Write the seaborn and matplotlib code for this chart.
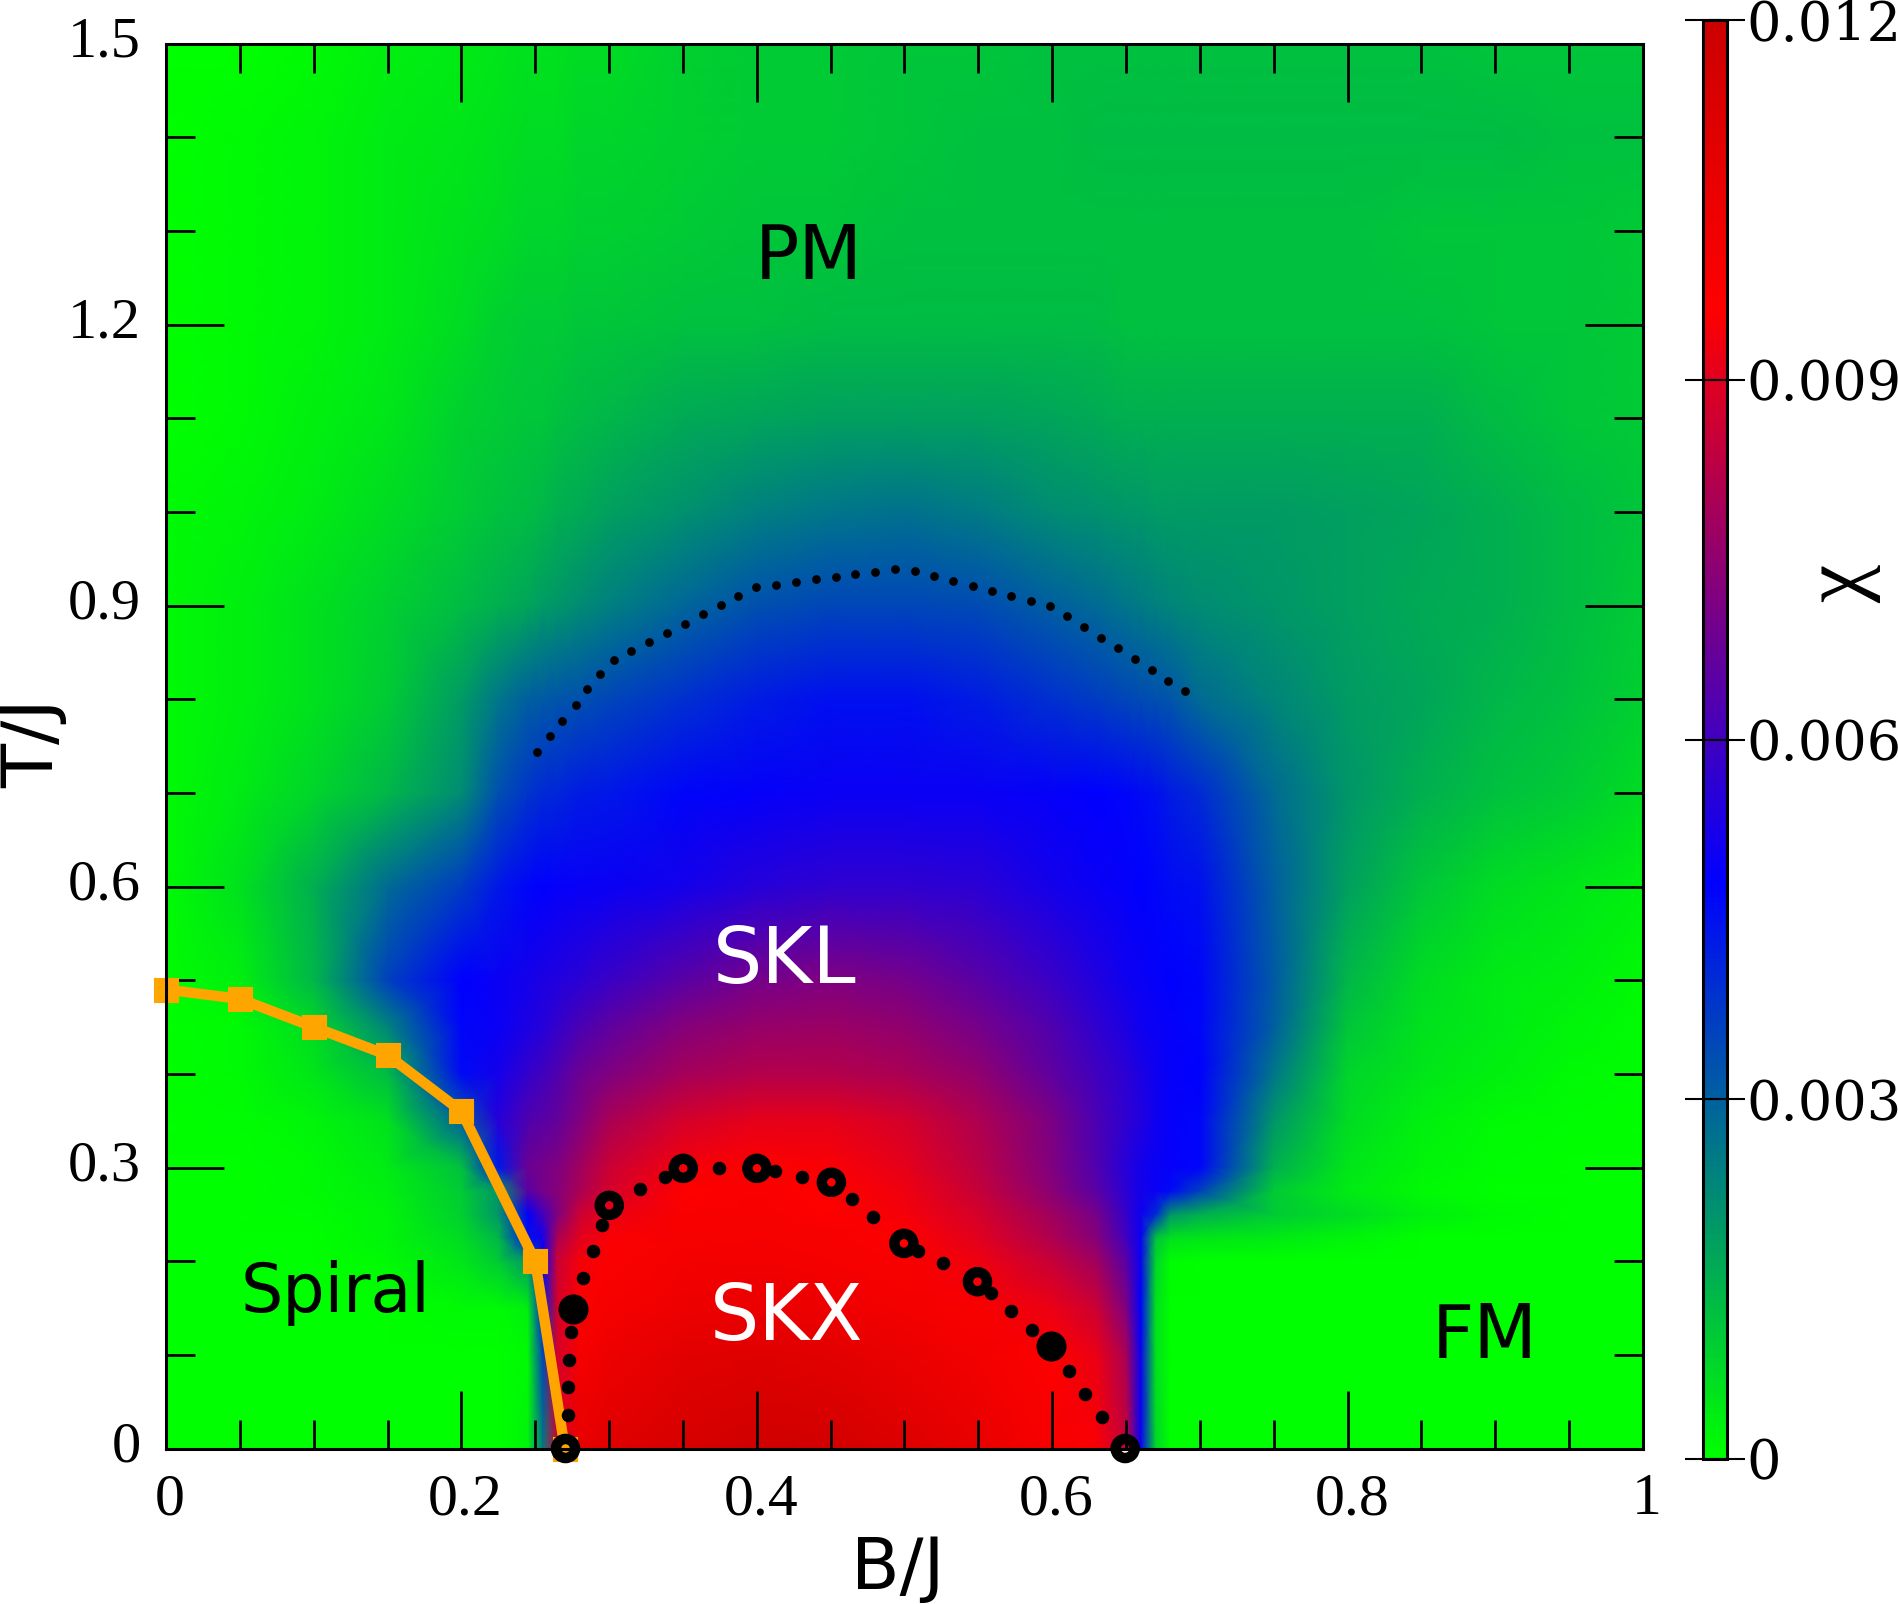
import numpy as np
import pandas as pd
import matplotlib.pyplot as plt
import seaborn as sns
from matplotlib.colors import LinearSegmentedColormap
from matplotlib.ticker import MultipleLocator, FixedLocator
from matplotlib.transforms import ScaledTranslation

# grid of the susceptibility map, chi is in units of 1e-3
b_grid = [0, .05, .1, .15, .2, .225, .245, .255, .265, .28, .3, .35, .4, .45, .5, .55, .6,
          .63, .65, .66, .67, .68, .7, .75, .8, .85, .9, .95, 1]
t_grid = [0, .1, .15, .2, .225, .25, .275, .3, .35, .4, .45, .5, .6, .7, .8, .9, 1.0, 1.1, 1.2, 1.3, 1.4, 1.5]
chi = [
    [0, 0, 0, 0, 0, 0, .2, 2.5, 8.8, 10.6, 11, 11.5, 11.8, 11.7, 11.2, 10.6, 9.9, 9.5, 8.5, 5, .8, 0, 0, 0, 0, 0, 0, 0, 0],
    [0, 0, 0, 0, 0, 0, .1, 3.5, 8.8, 10, 10.4, 10.9, 11.1, 10.9, 10.5, 10.1, 9.6, 9.2, 8, 5, .6, 0, 0, 0, 0, 0, 0, 0, 0],
    [0, 0, 0, 0, .1, .1, .3, 4.2, 8.8, 9.7, 10, 10.4, 10.5, 10.4, 10.1, 9.8, 9.2, 8.6, 7.2, 4.8, .6, 0, 0, 0, 0, 0, 0, 0, 0],
    [0, 0, 0, .1, .5, 1, 2, 5, 8.6, 9.4, 9.7, 10.1, 10.2, 10, 9.8, 9.3, 8.5, 7.8, 6.5, 5, .8, .05, 0, 0, 0, 0, 0, 0, 0],
    [0, 0, 0, .2, .7, 1.4, 4.5, 5.2, 8, 9, 9.5, 9.9, 10, 9.9, 9.6, 9, 8.1, 7.3, 6, 5, 1.2, .6, .5, .4, .2, 0, 0, 0, 0],
    [0, 0, .05, .2, .9, 2, 4.9, 6, 7.2, 8.6, 9.2, 9.8, 9.9, 9.7, 9.4, 8.8, 7.8, 7, 5.8, 5.1, 4, 2, 1.5, 1, .7, .3, .1, 0, 0],
    [0, 0, .1, .3, 1, 2, 6.5, 7, 7.3, 8, 8.8, 9.6, 9.8, 9.6, 9.3, 8.5, 7.4, 6.5, 5.6, 5.2, 5, 4.6, 3.6, 1, .4, .1, 0, 0, 0],
    [0, 0, .1, .4, 1.2, 4.4, 6.8, 7, 7.2, 7.8, 8.6, 9.4, 9.6, 9.5, 9.1, 8.3, 7.2, 6.3, 5.5, 5.2, 5, 4.9, 4.7, 1.5, .5, .2, .05, 0, 0],
    [0, .05, .2, .6, 3, 5.5, 6.3, 6.5, 6.7, 7.2, 8, 8.8, 9.1, 9.1, 8.8, 8.1, 7.1, 6.2, 5.7, 5.4, 5.1, 4.9, 4.7, 2, .7, .3, .1, .05, 0],
    [0, .1, .5, 1.3, 4.6, 5.2, 5.8, 6, 6.3, 6.8, 7.2, 7.9, 8.2, 8.2, 8, 7.5, 6.6, 6, 5.6, 5.3, 5.1, 4.9, 4.8, 2.6, .8, .5, .3, .1, .05],
    [0, .1, .7, 2.3, 4.7, 5, 5.3, 5.5, 5.8, 6.2, 6.6, 7.3, 7.6, 7.7, 7.5, 7, 6.3, 5.7, 5.3, 5.1, 5, 4.9, 4.7, 3, 1.1, .6, .4, .2, .05],
    [.05, .3, 1.4, 3.6, 4.8, 5, 5.2, 5.3, 5.4, 5.6, 5.9, 6.5, 7, 7.2, 7, 6.5, 5.9, 5.4, 5.1, 5, 4.9, 4.8, 4.7, 3.1, 1.4, .7, .4, .3, .1],
    [.1, .6, 1.5, 2.8, 3.7, 4.4, 4.7, 4.8, 4.9, 4.95, 5, 5.2, 5.5, 5.7, 5.7, 5.6, 5.2, 5, 4.9, 4.8, 4.7, 4.6, 4.5, 3, 1.8, 1.1, .7, .5, .3],
    [.1, .4, .8, 1.4, 2.2, 3.3, 3.8, 4, 4.1, 4.3, 4.4, 4.7, 4.9, 5, 5, 5, 4.9, 4.8, 4.7, 4.6, 4.5, 4.3, 4, 2.8, 2, 1.5, 1.2, 1, .7],
    [.1, .3, .6, 1, 1.9, 2.6, 3, 3.1, 3.2, 3.3, 3.5, 3.9, 4.3, 4.5, 4.5, 4.3, 3.9, 3.7, 3.5, 3.4, 3.3, 3.2, 2.8, 2.3, 1.9, 1.7, 1.4, 1.2, .9],
    [.1, .3, .6, .9, 1.3, 1.5, 1.7, 1.9, 2, 2.2, 2.4, 2.9, 3.3, 3.5, 3.5, 3.4, 3, 2.8, 2.6, 2.5, 2.4, 2.3, 2.2, 2, 1.8, 1.6, 1.5, 1.3, 1],
    [.1, .2, .4, .7, 1, 1.2, 1.3, 1.4, 1.5, 1.6, 1.8, 2.1, 2.4, 2.6, 2.7, 2.5, 2.2, 2.1, 2, 2, 1.9, 1.9, 1.9, 1.9, 1.8, 1.7, 1.5, 1.3, 1.1],
    [0, .1, .3, .5, .9, 1, 1.1, 1.1, 1.2, 1.3, 1.4, 1.6, 1.7, 1.8, 1.8, 1.8, 1.7, 1.6, 1.5, 1.5, 1.5, 1.5, 1.5, 1.5, 1.5, 1.5, 1.3, 1.1, 1],
    [0, .1, .2, .4, .7, .9, 1, 1, 1, 1.1, 1.1, 1.2, 1.2, 1.3, 1.3, 1.3, 1.3, 1.3, 1.2, 1.2, 1.2, 1.2, 1.2, 1.2, 1.2, 1.2, 1.1, 1.1, 1],
    [0, .1, .2, .4, .6, .7, .8, .8, .8, .9, .9, 1, 1.1, 1.1, 1.2, 1.2, 1.2, 1.2, 1.2, 1.2, 1.2, 1.2, 1.2, 1.2, 1.2, 1.1, 1.1, 1.1, 1],
    [0, .1, .2, .4, .5, .6, .7, .7, .7, .8, .8, .9, 1, 1, 1.1, 1.2, 1.2, 1.3, 1.3, 1.3, 1.3, 1.3, 1.3, 1.3, 1.3, 1.3, 1.3, 1.2, 1.2],
    [0, 0, .1, .3, .4, .5, .6, .6, .6, .7, .7, .9, 1, 1, 1.1, 1.1, 1.2, 1.2, 1.2, 1.2, 1.2, 1.2, 1.2, 1.2, 1.2, 1.2, 1.1, 1.1, 1.1],
]

# spiral boundary (orange)
spiral_b = [0, .05, .1, .15, .2, .25, .27]
spiral_t = [.49, .48, .45, .42, .36, .2, 0]

# dotted crossover above SKL
cross_b = [.2514, .2603, .2683, .2773, .2853, .2939, .3035, .3150, .3271, .3393, .3517, .3638, .3760,
           .3875, .3996, .4131, .4268, .4402, .4536, .4667, .4801, .4939, .5073, .5201, .5329, .5466,
           .5594, .5722, .5859, .5987, .6102, .6217, .6332, .6447, .6562, .6677, .6786, .6901]
cross_t = [.7433, .7603, .7764, .7934, .8105, .8265, .8415, .8511, .8607, .8703, .8799, .8906, .9002,
           .9098, .9194, .9215, .9248, .9280, .9301, .9333, .9354, .9386, .9365, .9312, .9258, .9205,
           .9151, .9098, .9045, .8991, .8885, .8767, .8650, .8543, .8425, .8308, .8191, .8084]

# SKX dome: small dots, open circles, filled circles
dome_b = [.2719, .2724, .2730, .2744, .2824, .2893, .2955, .3212, .3380, .3745, .4126, .4309, .4645,
          .4788, .5090, .5263, .5583, .5722, .5865, .6116, .6224, .6338]
dome_t = [.0358, .0653, .0941, .1240, .1817, .2105, .2382, .2767, .2895, .2991, .2959, .2895, .2660,
          .2468, .2112, .1977, .1656, .1464, .1262, .0824, .0578, .0333]
open_b = [.2705, .3001, .3502, .4001, .4505, .4996, .5494, .6494]
open_t = [0, .2596, .2991, .2991, .2842, .2190, .1781, 0]
full_b = [.2753, .5993]
full_t = [.1486, .1094]

sns.set_style('ticks')
serif = 'Liberation Serif'
sans = 'DejaVu Sans'

W, H = 1899, 1604
fig = plt.figure(figsize=(W / 100, H / 100), dpi=100)
ax = fig.add_axes([166 / W, 1 - 1448.5 / H, 1477 / W, 1405 / H])
cax = fig.add_axes([1703 / W, 1 - 1459 / H, 24 / W, 1439 / H])

cmap = LinearSegmentedColormap.from_list(
    'chi', [(0, '#00ff00'), (.4, '#0000ff'), (.8, '#ff0000'), (1, '#cc0000')], N=256)
mesh = ax.pcolormesh(b_grid, t_grid, np.array(chi), shading='gouraud', cmap=cmap, vmin=0, vmax=12)

orange = pd.DataFrame({'b': spiral_b, 't': spiral_t})
sns.lineplot(data=orange, x='b', y='t', sort=False, estimator=None, color='orange', lw=7.5, ax=ax,
             marker='s', markersize=10, markerfacecolor='none', markeredgecolor='orange',
             markeredgewidth=8, clip_on=False, zorder=5)

sns.scatterplot(x=cross_b, y=cross_t, color='black', s=40, linewidth=0, ax=ax, zorder=6)
sns.scatterplot(x=dome_b, y=dome_t, color='black', s=95, linewidth=0, ax=ax, zorder=6)
sns.scatterplot(x=open_b, y=open_t, facecolor='none', edgecolor='black', s=190, linewidth=7.5, ax=ax,
                zorder=7, clip_on=False)
sns.scatterplot(x=full_b, y=full_t, color='black', s=470, linewidth=0, ax=ax, zorder=7)

ax.set_xlim(0, 1)
ax.set_ylim(0, 1.5)
ax.set_axisbelow(False)
ax.set_xticks([0, .2, .4, .6, .8, 1])
ax.set_xticklabels(['0', '0.2', '0.4', '0.6', '0.8', '1'], family=serif, fontsize=43, color='black')
ax.set_yticks([0, .3, .6, .9, 1.2, 1.5])
ax.set_yticklabels(['0', '0.3', '0.6', '0.9', '1.2', '1.5'], family=serif, fontsize=42, color='black')
ax.xaxis.set_minor_locator(MultipleLocator(.05))
ax.yaxis.set_minor_locator(MultipleLocator(.1))
ax.tick_params(which='major', direction='in', top=True, right=True, length=42, width=2, pad=18, color='black')
ax.tick_params(which='minor', direction='in', top=True, right=True, length=21, width=2, color='black')
# tick labels sit a little off the ticks in the original
for lab in ax.get_xticklabels():
    lab.set_transform(lab.get_transform() + ScaledTranslation(3 / 72, 0, fig.dpi_scale_trans))
for lab in ax.get_yticklabels():
    lab.set_transform(lab.get_transform() + ScaledTranslation(0, 5 / 72, fig.dpi_scale_trans))
for s in ax.spines.values():
    s.set_linewidth(2.2)
    s.set_color('black')
    s.set_zorder(8)
ax.set_xlabel('')
ax.set_ylabel('')

fig.text(741 * 1.2111 / W, 1 - 1296 * 1.2111 / H, 'B/J', family=sans, fontsize=51, ha='center', va='center', color='black')
fig.text(28 * 1.2111 / W, 1 - 614 * 1.2111 / H, 'T/J', family=sans, fontsize=52, ha='center', va='center',
         rotation=90, color='black')

for label, b, t, size, col in [('PM', .435, 1.27, 53, 'black'), ('SKL', .419, .52, 56, 'white'),
                               ('SKX', .42, .139, 56, 'white'), ('Spiral', .115, .166, 48, 'black'),
                               ('FM', .893, .118, 53, 'black')]:
    ax.text(b, t, label, family=sans, fontsize=size, color=col, ha='center', va='center', zorder=9)

cb = fig.colorbar(mesh, cax=cax)
cb.set_ticks([0, 3, 6, 9, 12])
cb.set_ticklabels(['0', '0.003', '0.006', '0.009', '0.012'], family='DejaVu Serif', fontsize=39, color='black')
cb.outline.set_linewidth(2.2)
cb.outline.set_edgecolor('black')
cax.yaxis.set_minor_locator(FixedLocator([]))
cax.set_axisbelow(False)
cax.tick_params(axis='y', direction='inout', left=True, right=True, length=26, width=1.5, pad=1, color='black')
fig.text(1841 / W, 1 - 584 / H, 'χ', family=serif, fontsize=62, rotation=90, ha='center', va='center', color='black')

fig.savefig('out.png', dpi=100)
